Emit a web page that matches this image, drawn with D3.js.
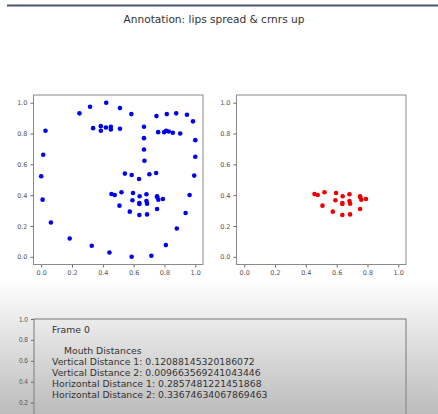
<!DOCTYPE html>
<html>
<head>
<meta charset="utf-8">
<script src="https://cdn.jsdelivr.net/npm/d3@7"></script>
<style>
  body { margin: 0; background: #fff; }
  svg { display: block; font-family: "DejaVu Sans", sans-serif; }
</style>
</head>
<body>
<div class="chart"></div>
<script>
// face landmarks (jaw, brows, nose, eyes)
var faceX = [0.028, 0.013, 0.0, 0.009, 0.063, 0.185, 0.328, 0.443, 0.587, 0.715, 0.809, 0.880, 0.937, 0.963, 0.993, 1.0, 1.0,
  0.248, 0.317, 0.422, 0.511, 0.585,
  0.748, 0.815, 0.876, 0.946, 0.985,
  0.667, 0.667, 0.667, 0.670, 0.543, 0.587, 0.635, 0.702, 0.746,
  0.337, 0.387, 0.420, 0.452, 0.452, 0.387, 0.511,
  0.759, 0.798, 0.811, 0.828, 0.854, 0.902];
var faceY = [0.818, 0.662, 0.523, 0.371, 0.223, 0.119, 0.072, 0.028, 0.0, 0.007, 0.076, 0.184, 0.284, 0.401, 0.527, 0.649, 0.757,
  0.931, 0.974, 1.0, 0.965, 0.926,
  0.913, 0.926, 0.931, 0.922, 0.879,
  0.844, 0.770, 0.696, 0.623, 0.540, 0.531, 0.505, 0.536, 0.544,
  0.835, 0.848, 0.839, 0.844, 0.826, 0.818, 0.831,
  0.809, 0.809, 0.818, 0.813, 0.805, 0.800];

// mouth landmarks (shown in both panels)
var mouthX = [0.456, 0.477, 0.521, 0.596, 0.639, 0.683, 0.752, 0.760, 0.790, 0.592,
  0.637, 0.637, 0.683, 0.687, 0.508, 0.752, 0.575, 0.637, 0.687, 0.752];
var mouthY = [0.408, 0.401, 0.419, 0.414, 0.393, 0.406, 0.393, 0.371, 0.375, 0.367,
  0.349, 0.343, 0.362, 0.345, 0.332, 0.310, 0.293, 0.271, 0.275, 0.388];

var ticks = [0, 0.2, 0.4, 0.6, 0.8, 1.0];
var textTicks = [0.2, 0.4, 0.6, 0.8, 1.0];

var title = "Annotation: lips spread & crnrs up";
var frameLabel = "Frame 0";
var distHeader = "Mouth Distances";
var distLabels = ["Vertical Distance 1", "Vertical Distance 2", "Horizontal Distance 1", "Horizontal Distance 2"];
var distValues = ["0.12088145320186072", "0.009663569241043446", "0.2857481221451868", "0.33674634067869463"];

var svgWidth = 438;
var svgHeight = 414;

var svg = d3.select(".chart")
  .append("svg")
  .attr("width", svgWidth)
  .attr("height", svgHeight);

// grey video-ish gradient at the bottom
var grad = svg.append("defs").append("linearGradient")
  .attr("id", "bg").attr("x1", 0).attr("y1", 0).attr("x2", 0).attr("y2", 1);
grad.append("stop").attr("offset", "0%").attr("stop-color", "#ffffff");
grad.append("stop").attr("offset", "100%").attr("stop-color", "#bcbcbc");

svg.append("rect").attr("width", svgWidth).attr("height", svgHeight).attr("fill", "#fff");
svg.append("rect").attr("x", 0).attr("y", 280).attr("width", svgWidth).attr("height", svgHeight - 280)
  .attr("fill", "url(#bg)");

// window bar at the top
svg.append("rect").attr("x", 7).attr("y", 4).attr("width", svgWidth - 7).attr("height", 1).attr("fill", "#9aaac4");
svg.append("rect").attr("x", 7).attr("y", 5).attr("width", svgWidth - 7).attr("height", 1.5).attr("fill", "#4c5268");

svg.append("text")
  .attr("x", 214).attr("y", 23)
  .attr("text-anchor", "middle")
  .attr("font-size", "10.6px")
  .attr("fill", "#333")
  .text(title);

function panel(x0, x1, y0, y1) {
  var x = d3.scaleLinear().domain([-0.05, 1.05]).range([x0, x1]);
  var y = d3.scaleLinear().domain([-0.05, 1.05]).range([y1, y0]);
  var g = svg.append("g");

  g.append("g")
    .attr("transform", `translate(0, ${y1})`)
    .call(d3.axisBottom(x).tickValues(ticks).tickFormat(d3.format(".1f")).tickSize(3).tickSizeOuter(0));
  g.append("g")
    .attr("transform", `translate(${x0}, 0)`)
    .call(d3.axisLeft(y).tickValues(ticks).tickFormat(d3.format(".1f")).tickSize(3).tickSizeOuter(0));

  g.selectAll(".domain").remove();
  g.selectAll(".tick line").attr("stroke", "#666");
  g.selectAll(".tick text").attr("font-size", "6.5px").attr("fill", "#555")
    .attr("font-family", "DejaVu Sans, sans-serif");

  g.append("rect")
    .attr("x", x0).attr("y", y0).attr("width", x1 - x0).attr("height", y1 - y0)
    .attr("fill", "none").attr("stroke", "#8a8a8a").attr("stroke-width", 1);
  return { g: g, x: x, y: y };
}

var left = panel(33.5, 203, 95, 264.5);
var right = panel(236.5, 406, 95, 264.5);

var allX = faceX.concat(mouthX);
var allY = faceY.concat(mouthY);

left.g.selectAll("circle")
  .data(allX)
  .enter()
  .append("circle")
  .attr("cx", d => left.x(d))
  .attr("cy", (d, i) => left.y(allY[i]))
  .attr("r", 2.3)
  .attr("fill", "#0000f0");

right.g.selectAll("circle")
  .data(mouthX)
  .enter()
  .append("circle")
  .attr("cx", d => right.x(d))
  .attr("cy", (d, i) => right.y(mouthY[i]))
  .attr("r", 2.3)
  .attr("fill", "#ee0000");

// text panel at the bottom
var tx0 = 34, tx1 = 406;
var ty = d3.scaleLinear().domain([0, 1]).range([423.5, 319]);
var tg = svg.append("g");
tg.append("g")
  .attr("transform", `translate(${tx0}, 0)`)
  .call(d3.axisLeft(ty).tickValues(textTicks).tickFormat(d3.format(".1f")).tickSize(3).tickSizeOuter(0));
tg.selectAll(".domain").remove();
tg.selectAll(".tick line").attr("stroke", "#666");
tg.selectAll(".tick text").attr("font-size", "6.5px").attr("fill", "#555");

tg.append("rect")
  .attr("x", tx0).attr("y", ty(1)).attr("width", tx1 - tx0).attr("height", ty(0) - ty(1))
  .attr("fill", "none").attr("stroke", "#8a8a8a").attr("stroke-width", 1.2);

tg.append("text").attr("x", 52).attr("y", 332.5)
  .attr("font-size", "9.3px").attr("fill", "#333").text(frameLabel);
tg.append("text").attr("x", 64).attr("y", 353.5)
  .attr("font-size", "9.3px").attr("fill", "#333").text(distHeader);

tg.selectAll(".dist")
  .data(distLabels)
  .enter()
  .append("text")
  .attr("class", "dist")
  .attr("x", 52)
  .attr("y", (d, i) => 364.5 + i * 11.3)
  .attr("font-size", "9.3px")
  .attr("fill", "#333")
  .text((d, i) => d + ": " + distValues[i]);
</script>
</body>
</html>
